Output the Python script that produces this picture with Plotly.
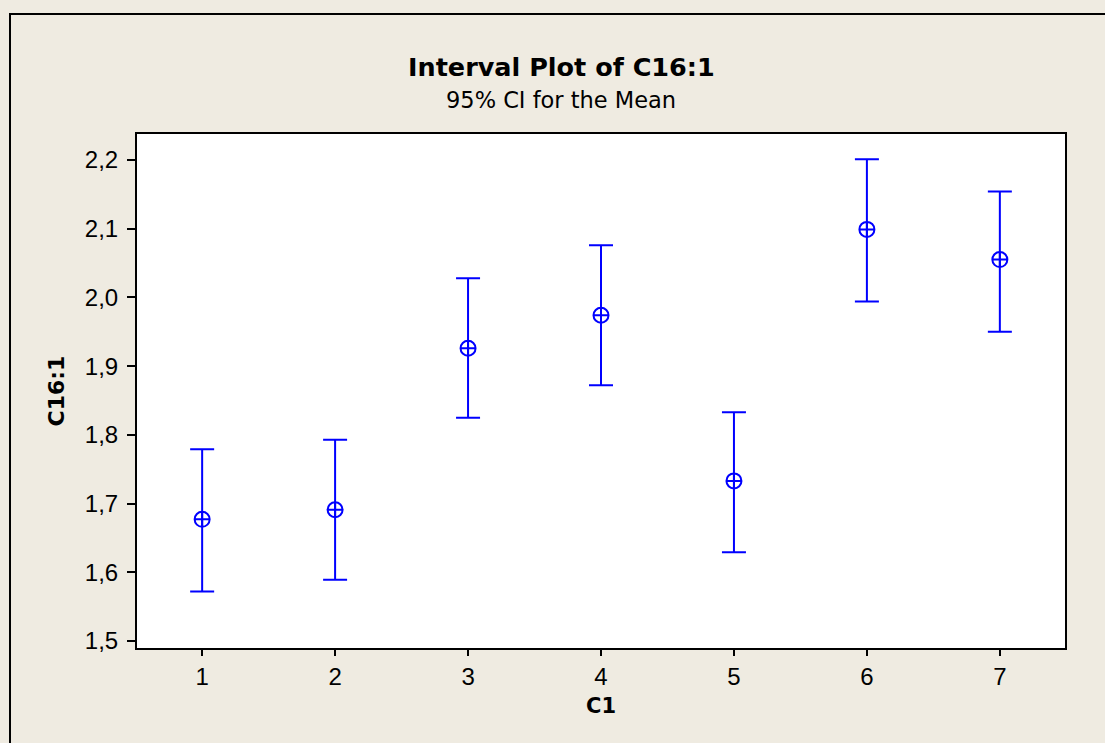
import plotly.graph_objects as go

groups = [1, 2, 3, 4, 5, 6, 7]
means = [1.677, 1.691, 1.926, 1.974, 1.733, 2.099, 2.055]
upper = [1.779, 1.793, 2.028, 2.076, 1.833, 2.201, 2.154]
lower = [1.572, 1.589, 1.825, 1.872, 1.629, 1.994, 1.950]
yticks = [1.5, 1.6, 1.7, 1.8, 1.9, 2.0, 2.1, 2.2]

err_plus = [u - m for u, m in zip(upper, means)]
err_minus = [m - l for m, l in zip(means, lower)]

BG = "#EFEBE1"
BLUE = "#0000FF"
FONT = "DejaVu Sans"
TICKFONT = "Liberation Sans"

fig = go.Figure()
fig.add_trace(go.Scatter(
    x=groups, y=means, mode="markers",
    marker=dict(symbol="circle-cross-open", size=15, color=BLUE, line=dict(width=2, color=BLUE)),
    error_y=dict(type="data", symmetric=False, array=err_plus, arrayminus=err_minus,
                 color=BLUE, thickness=2, width=12),
    showlegend=False,
))

W, H = 1105, 743
L, R, T, B = 137, 40, 134, 95
pw, ph = W - L - R, H - T - B

def px(xp):
    return (xp - L) / pw

def py(yp):
    return (H - B - yp) / ph

fig.update_layout(
    width=W, height=H,
    margin=dict(l=L, r=R, t=T, b=B),
    paper_bgcolor=BG, plot_bgcolor="white",
    separators=", ",
    font=dict(family=FONT, color="black", size=20),
    xaxis=dict(range=[0.51, 7.49], tickmode="array", tickvals=groups,
               ticks="outside", ticklen=6, tickwidth=1.5, tickcolor="black",
               showgrid=False, zeroline=False, showline=True, linecolor="black", linewidth=2,
               mirror=True, tickfont=dict(size=24, family=TICKFONT),
               title=dict(text="<b>C1</b>", font=dict(size=21), standoff=10)),
    yaxis=dict(range=[1.4898, 2.2378], tickmode="array", tickvals=yticks, tickformat=".1f",
               ticks="outside", ticklen=8, tickwidth=1.5, tickcolor="black",
               showgrid=False, zeroline=False, showline=True, linecolor="black", linewidth=2,
               mirror=True, tickfont=dict(size=24, family=TICKFONT), ticklabelstandoff=4,
               title=dict(text="<b>C16:1</b>", font=dict(size=22), standoff=14)),
    shapes=[dict(type="rect", xref="paper", yref="paper",
                 x0=px(10), y0=-1, x1=2, y1=py(14),
                 line=dict(color="black", width=2), fillcolor="rgba(0,0,0,0)", layer="below")],
    annotations=[
        dict(text="<b>Interval Plot of C16:1</b>", xref="paper", yref="paper",
             x=px(561), y=py(67), xanchor="center", yanchor="middle",
             showarrow=False, font=dict(size=25.5, family=FONT)),
        dict(text="95% CI for the Mean", xref="paper", yref="paper",
             x=px(561), y=py(100), xanchor="center", yanchor="middle",
             showarrow=False, font=dict(size=22.5, family=FONT)),
    ],
)

fig.write_html("out.html")
